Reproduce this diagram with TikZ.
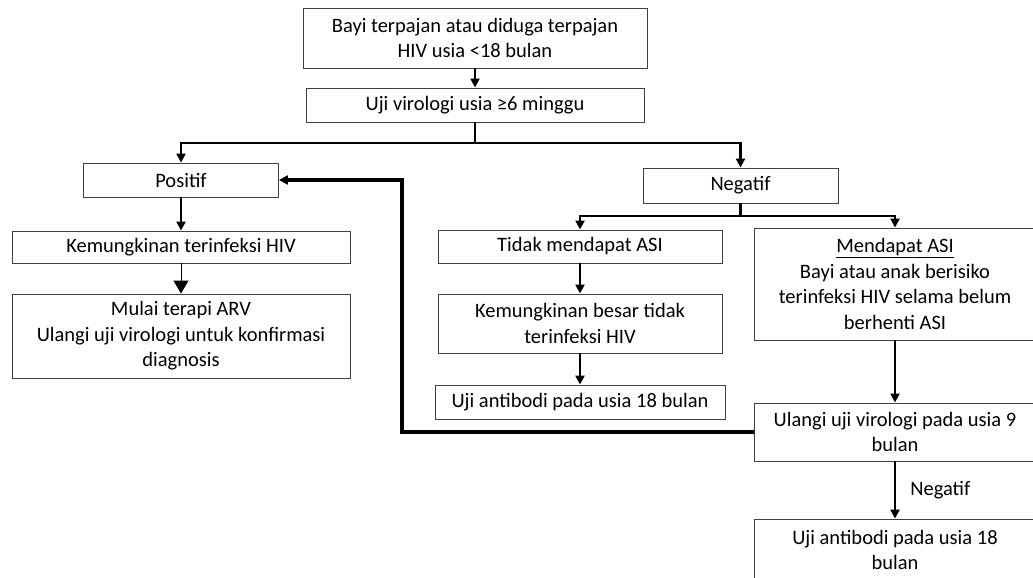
\documentclass[tikz,border=0pt]{standalone}
\usepackage{fontspec}
\setmainfont{Carlito}
\usetikzlibrary{arrows.meta}
\begin{document}
\begin{tikzpicture}[x=1pt,y=1pt,
  box/.style={draw=black!75,line width=0.9pt,inner sep=0pt,align=center,font=\fontsize{20.5}{25.5}\selectfont},
  conn/.style={line width=2.6pt,-{Triangle[length=9pt,width=9pt]}},
  thinconn/.style={line width=1pt,-{Triangle[length=13pt,width=15pt]}},
  fb/.style={line width=3.6pt,-{Triangle[length=9pt,width=9pt]}},
  lbl/.style={font=\fontsize{20.5}{25.5}\selectfont,inner sep=0pt}]
\useasboundingbox (0,0) rectangle (1033,-578);
\fill[white] (0,0) rectangle (1033,-578);
\node[box,minimum width=344pt,minimum height=60pt] (b1) at (475,-38) {Bayi terpajan atau diduga terpajan\\HIV usia <18 bulan};
\node[box,minimum width=338pt,minimum height=34pt] (b2) at (475,-105) {Uji virologi usia ≥6 minggu};
\node[box,minimum width=195pt,minimum height=34pt] (pos) at (181,-180) {Positif};
\node[box,minimum width=195pt,minimum height=35pt] (neg) at (740.5,-185.5) {Negatif};
\node[box,minimum width=338pt,minimum height=32pt] (kem) at (181,-247) {Kemungkinan terinfeksi HIV};
\node[box,minimum width=338pt,minimum height=84pt] (mul) at (181,-336) {Mulai terapi ARV\\Ulangi uji virologi untuk konfirmasi\\diagnosis};
\node[box,minimum width=284pt,minimum height=33pt] (tid) at (580,-246.5) {Tidak mendapat ASI};
\node[box,minimum width=284pt,minimum height=59pt] (kbt) at (580,-323.5) {Kemungkinan besar tidak\\terinfeksi HIV};
\node[box,minimum width=290pt,minimum height=34pt] (uji1) at (580,-402) {Uji antibodi pada usia 18 bulan};
\node[box,minimum width=282pt,minimum height=112pt] (mend) at (895,-284) {\underline{Mendapat ASI}\\Bayi atau anak berisiko\\terinfeksi HIV selama belum\\berhenti ASI};
\node[box,minimum width=282pt,minimum height=58pt] (ulg) at (895,-432) {Ulangi uji virologi pada usia 9\\bulan};
\node[box,minimum width=282pt,minimum height=62pt] (uji2) at (895,-550) {Uji antibodi pada usia 18\\bulan};
\coordinate (j1) at (475,-143);
\coordinate (j2) at (740.5,-216);
\coordinate (fbc) at (402,-432);
\draw[conn] (b1) -- (b2);
\draw[conn] (b2.south) -- (j1) -| (pos.north);
\draw[conn] (j1) -| (neg.north);
\draw[conn] (neg.south) -- (j2) -| (tid.north);
\draw[conn] (j2) -| (mend.north);
\draw[conn] (pos) -- (kem);
\draw[thinconn] (kem) -- (mul);
\draw[conn] (tid) -- (kbt);
\draw[conn] (kbt.south) -- (uji1.north);
\draw[conn] (mend) -- (ulg);
\draw[conn] (ulg) -- node[lbl,right=14pt] {Negatif} (uji2);
\draw[fb] (ulg.west) -- (fbc) |- (pos.east);
\end{tikzpicture}
\end{document}
